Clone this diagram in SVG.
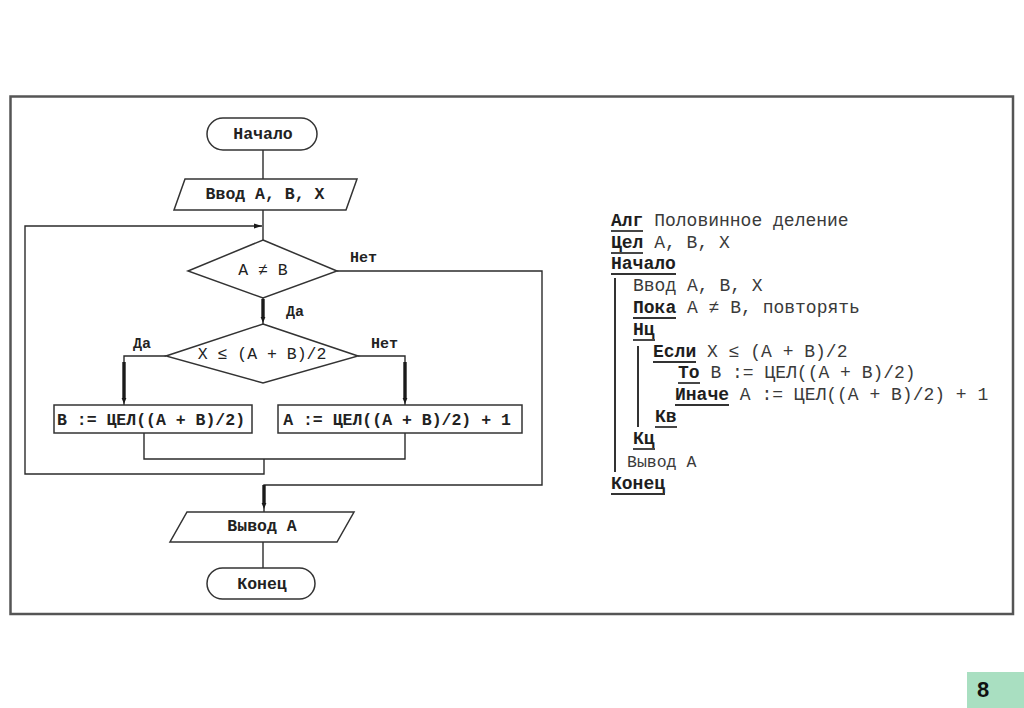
<svg xmlns="http://www.w3.org/2000/svg" width="1024" height="708" viewBox="0 0 1024 708">
<style>
.ln{fill:none;stroke:#2b2b2b;stroke-width:1.4}
.thick{fill:none;stroke:#1a1a1a;stroke-width:3.4;marker-end:url(#tip)}
.shape{fill:#fff;stroke:#333;stroke-width:1.5}
.ft{font-family:"Liberation Mono","DejaVu Sans Mono",monospace;font-size:16.5px;font-weight:bold;fill:#222;text-anchor:middle}
.fr{font-family:"Liberation Mono","DejaVu Sans Mono",monospace;font-size:16.5px;fill:#222;text-anchor:middle}
.lbl{font-family:"Liberation Mono","DejaVu Sans Mono",monospace;font-size:15px;font-weight:bold;fill:#222}
.code{font-family:"Liberation Mono","DejaVu Sans Mono",monospace;font-size:18px;fill:#3a3a3a}
.kw{font-weight:bold;fill:#1e1e1e}
.ul{stroke:#333;stroke-width:1.8}
.bar{stroke:#333;stroke-width:2}
</style>
<defs>
<marker id="tip" markerUnits="userSpaceOnUse" viewBox="0 0 6 6" markerWidth="6" markerHeight="6" refX="0" refY="3" orient="auto">
<path d="M0,0.6 L6,3 L0,5.4 z" fill="#1a1a1a"/>
</marker>
<marker id="arr" markerUnits="userSpaceOnUse" viewBox="0 0 8 6" markerWidth="8" markerHeight="6" refX="8" refY="3" orient="auto">
<path d="M0,0.5 L8,3 L0,5.5 z" fill="#1a1a1a"/>
</marker>
</defs>
<rect x="0" y="0" width="1024" height="708" fill="#fff"/>
<rect x="10.5" y="96.5" width="1002.5" height="517.5" fill="none" stroke="#555" stroke-width="2.5"/>

<g id="connectors">
<path class="ln" d="M263,150 V179"/>
<path class="ln" d="M263,210 V240"/>
<path class="ln" d="M263,298 V324"/>
<path class="thick" d="M263,299 V317"/>
<path class="ln" d="M166,356 H124 V405"/>
<path class="thick" d="M124,362 V398"/>
<path class="ln" d="M358,356 H405 V405"/>
<path class="thick" d="M405,362 V398"/>
<path class="ln" d="M144,433 V459 H405 V433"/>
<path class="ln" d="M264,459 V474 H25 V226 H262" marker-end="url(#arr)"/>
<path class="ln" d="M337,271 H542 V485 H264 V512"/>
<path class="thick" d="M264,485 V503"/>
<path class="ln" d="M263,542 V568"/>
<text class="lbl" x="350" y="262">Нет</text>
<text class="lbl" x="286" y="316">Да</text>
<text class="lbl" x="133" y="348">Да</text>
<text class="lbl" x="371" y="348">Нет</text>
</g>

<g id="start">
<rect class="shape" x="207" y="118" width="110" height="32" rx="16"/>
<text class="ft" x="263" y="139">Начало</text>
</g>
<g id="input">
<polygon class="shape" points="185,179 357,179 346,210 174,210"/>
<text class="ft" x="265" y="199">Ввод A, B, X</text>
</g>
<g id="cond1">
<polygon class="shape" points="263,240 337,271 263,298 188,271"/>
<text class="fr" x="263" y="275">A ≠ B</text>
</g>
<g id="cond2">
<polygon class="shape" points="263,324 358,356 263,383 166,356"/>
<text class="fr" x="262" y="359">X ≤ (A + B)/2</text>
</g>
<g id="boxB">
<rect class="shape" x="54" y="405" width="198" height="28"/>
<text class="ft" x="151" y="425">B := ЦЕЛ((A + B)/2)</text>
</g>
<g id="boxA">
<rect class="shape" x="278" y="405" width="244" height="28"/>
<text class="ft" x="397" y="425">A := ЦЕЛ((A + B)/2) + 1</text>
</g>
<g id="output">
<polygon class="shape" points="187,512 354,512 337,542 170,542"/>
<text class="ft" x="262" y="531">Вывод A</text>
</g>
<g id="end">
<rect class="shape" x="207" y="568" width="108" height="31" rx="15.5"/>
<text class="ft" x="262" y="589">Конец</text>
</g>

<g id="code">
<text class="code" x="611" y="226"><tspan class="kw">Алг</tspan> Половинное деление</text>
<text class="code" x="611" y="248"><tspan class="kw">Цел</tspan> A, B, X</text>
<text class="code" x="611" y="269"><tspan class="kw">Начало</tspan></text>
<text class="code" x="633" y="291">Ввод A, B, X</text>
<text class="code" x="633" y="313"><tspan class="kw">Пока</tspan> A ≠ B, повторять</text>
<text class="code" x="633" y="335"><tspan class="kw">Нц</tspan></text>
<text class="code" x="653" y="357"><tspan class="kw">Если</tspan> X ≤ (A + B)/2</text>
<text class="code" x="678" y="378"><tspan class="kw">То</tspan> B := ЦЕЛ((A + B)/2)</text>
<text class="code" x="675" y="400"><tspan class="kw">Иначе</tspan> A := ЦЕЛ((A + B)/2) + 1</text>
<text class="code" x="655" y="422"><tspan class="kw">Кв</tspan></text>
<text class="code" x="633" y="444"><tspan class="kw">Кц</tspan></text>
<text class="code" x="627" y="467" style="font-size:16.5px">Вывод A</text>
<text class="code" x="611" y="489"><tspan class="kw">Конец</tspan></text>
<line class="ul" x1="611" y1="231" x2="643" y2="231"/>
<line class="ul" x1="611" y1="253" x2="643" y2="253"/>
<line class="ul" x1="611" y1="274" x2="676" y2="274"/>
<line class="ul" x1="633" y1="318" x2="676" y2="318"/>
<line class="ul" x1="633" y1="340" x2="655" y2="340"/>
<line class="ul" x1="653" y1="362" x2="696" y2="362"/>
<line class="ul" x1="678" y1="383" x2="700" y2="383"/>
<line class="ul" x1="675" y1="405" x2="729" y2="405"/>
<line class="ul" x1="655" y1="427" x2="677" y2="427"/>
<line class="ul" x1="633" y1="449" x2="655" y2="449"/>
<line class="ul" x1="611" y1="494" x2="665" y2="494"/>
<line class="bar" x1="615" y1="278" x2="615" y2="472"/>
<line class="bar" x1="638" y1="346" x2="638" y2="427"/>
</g>

<g id="pagenum">
<rect x="967" y="672" width="57" height="36" fill="#a9dfc1"/>
<text x="977" y="697" style="font-family:'Liberation Sans',Arial,sans-serif;font-size:22px;font-weight:bold;fill:#111">8</text>
</g>
</svg>
